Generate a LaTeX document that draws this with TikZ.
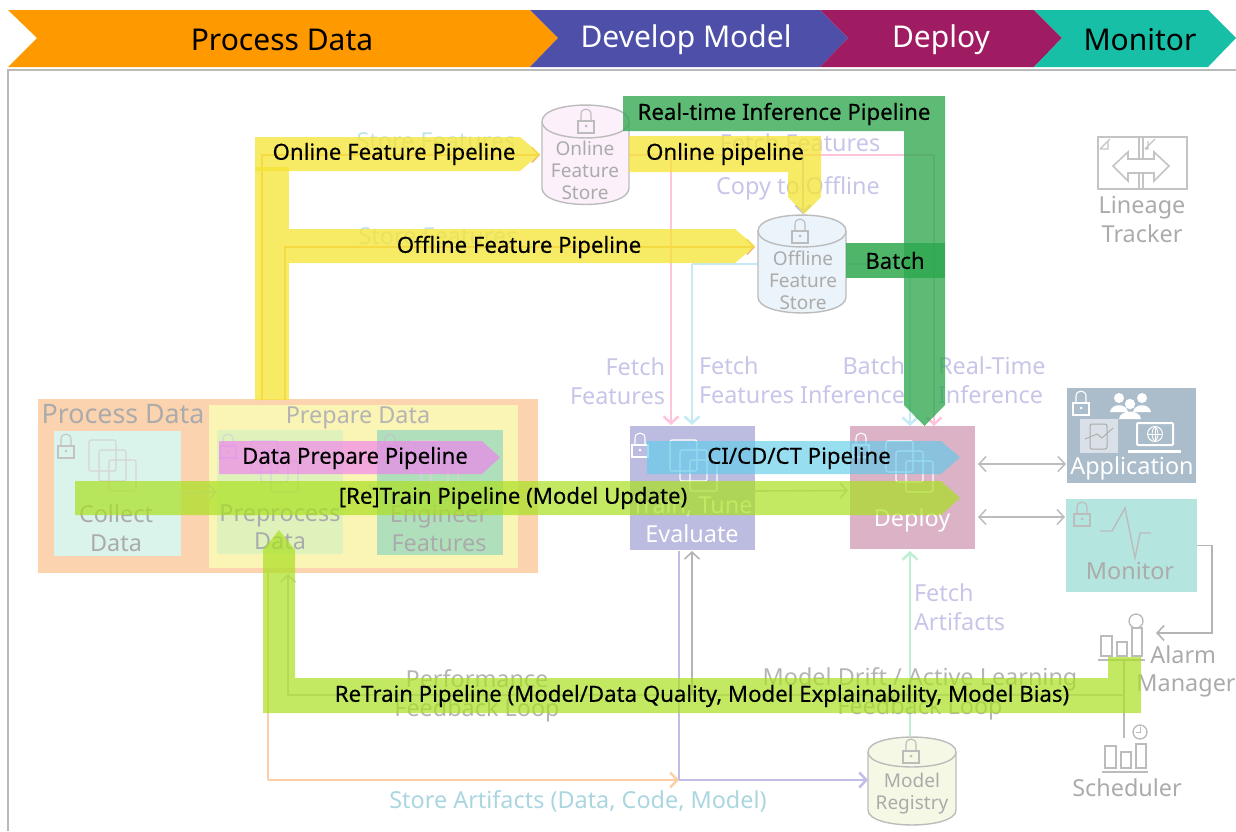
\documentclass[tikz,border=0pt]{standalone}
\usepackage{fontspec}
\setmainfont{Noto Sans}
\newfontfamily\pipefont[FakeBold=0.2]{Noto Sans}
\usetikzlibrary{arrows.meta}
\definecolor{cOrange}{HTML}{FF9900}
\definecolor{cPurple}{HTML}{4D4FA8}
\definecolor{cDeploy}{HTML}{A01C62}
\definecolor{cTeal}{HTML}{16BFA5}
\definecolor{cFrame}{HTML}{B9BBBB}
\definecolor{cLabel}{HTML}{C7C5E8}
\definecolor{cGray}{HTML}{ABABAB}
\definecolor{cYellow}{HTML}{F5E438}
\definecolor{cGreen}{HTML}{2FA84F}
\definecolor{cLime}{HTML}{A9E01F}
\definecolor{cPink}{HTML}{F07FF0}
\definecolor{cSky}{HTML}{60CCEA}
\definecolor{bProcess}{HTML}{FBD3AF}
\definecolor{bPrepare}{HTML}{FAF4B5}
\definecolor{bCollect}{HTML}{DAF3EB}
\definecolor{bPreproc}{HTML}{E0F2BC}
\definecolor{bEngineer}{HTML}{B0DFBB}
\definecolor{bTrain}{HTML}{BCBBE0}
\definecolor{bDeploy}{HTML}{DBB2C6}
\definecolor{bApp}{HTML}{ABBCCB}
\definecolor{bMonitor}{HTML}{B5E5DF}
\definecolor{bOnline}{HTML}{FCF0FB}
\definecolor{bOffline}{HTML}{EBF4FA}
\definecolor{bRegistry}{HTML}{F4F8E4}
\definecolor{lPink}{HTML}{FFC4DC}
\definecolor{lSky}{HTML}{C6EAF6}
\definecolor{lMint}{HTML}{BFF0D4}
\definecolor{lLav}{HTML}{C0BEE6}
\definecolor{lPeach}{HTML}{FCCFA4}
\definecolor{lStore}{HTML}{AAD6E0}
\definecolor{lFeat}{HTML}{F6B870}
\tikzset{
  every node/.style={inner sep=0pt,outer sep=0pt},
  head/.style={text=black,font=\fontsize{30}{34}\selectfont},
  pipe/.style={text=black,font=\pipefont\fontsize{22.2}{26}\selectfont},
  soft/.style={text=cLabel,font=\fontsize{23.4}{29}\selectfont,align=center},
  softgray/.style={text=cGray,font=\fontsize{23.4}{28.5}\selectfont,align=center},
  softwhite/.style={text=white,font=\fontsize{23.4}{29}\selectfont,align=center},
  cyltext/.style={text=cGray,font=\fontsize{19}{22}\selectfont,align=center},
  link/.style={line width=1.5pt,cGray!80,{Straight Barb[length=7pt,width=15pt]}-{Straight Barb[length=7pt,width=15pt]}},
  arr/.style={line width=1.6pt,-{Straight Barb[length=7pt,width=15pt]}},
  arrc/.style={line width=2.5pt,-{Straight Barb[length=7pt,width=15pt]}},
}
% name, x1, y1, x2, y2, fill
\newcommand{\boxn}[6]{\node[anchor=north west,fill=#6,minimum width={#4pt-#2pt},minimum height={#5pt-#3pt}] (#1) at (#2,#3) {};}
% name, x1, x2, topcentre y, ry, bottom y, fill
\newcommand{\cyl}[7]{%
  \draw[line width=1.4pt,cGray!80,fill=#7] (#2,#4) -- (#2,#6) .. controls (#2,#6+1.33*#5) and (#3,#6+1.33*#5) .. (#3,#6) -- (#3,#4) .. controls (#3,#4-1.33*#5) and (#2,#4-1.33*#5) .. cycle;
  \draw[line width=1.4pt,cGray!80] (#2,#4) .. controls (#2,#4+1.33*#5) and (#3,#4+1.33*#5) .. (#3,#4);
  \node[anchor=north west,minimum width={#3pt-#2pt},minimum height={#6pt+#5pt-#4pt+#5pt}] (#1) at (#2,#4-#5) {};}
% lock: left x, shackle top y, colour
\newcommand{\lockicon}[3]{%
  \draw[line width=1.1pt,#3] (#1,#2+12) rectangle (#1+16,#2+24);
  \draw[line width=1.1pt,#3] (#1+3,#2+12) -- (#1+3,#2+5) .. controls (#1+3,#2-1.5) and (#1+13,#2-1.5) .. (#1+13,#2+5) -- (#1+13,#2+12);
  \fill[#3] (#1+8,#2+17) circle (1.5);}
% docs: left x, top y, colour
\newcommand{\docs}[3]{%
  \foreach \k in {0,10,20}{\draw[line width=1.1pt,#3,rounded corners=2pt] (#1+\k,#2+\k) rectangle (#1+\k+27,#2+\k+31);}}
% bars: x, baseline y, h1, h2, h3, width of baseline
\newcommand{\barsicon}[6]{%
  \draw[line width=1.4pt,cGray!80] (#1,#2) -- (#1+#6,#2);
  \draw[line width=1.4pt,cGray!80] (#1+3,#2-4) rectangle (#1+14,#2-4-#3);
  \draw[line width=1.4pt,cGray!80] (#1+19,#2-4) rectangle (#1+29,#2-4-#4);
  \draw[line width=1.4pt,cGray!80] (#1+34,#2-4) rectangle (#1+44,#2-4-#5);}
\begin{document}
\begin{tikzpicture}[x=1pt,y=-1pt]
\useasboundingbox (0,0) rectangle (1236,831);
% header
\fill[cOrange] (8,10) -- (530,10) -- (558,38) -- (530,67) -- (8,67) -- (37,38) -- cycle;
\fill[cPurple] (530,10) -- (820,10) -- (848,38) -- (820,67) -- (530,67) -- (558,38) -- cycle;
\fill[cDeploy] (820,10) -- (1034,10) -- (1062,38) -- (1034,67) -- (820,67) -- (848,38) -- cycle;
\fill[cTeal] (1034,10) -- (1208,10) -- (1236,38) -- (1208,67) -- (1034,67) -- (1062,38) -- cycle;
\node[head] (hProcess) at (282,39.5) {Process Data};
\node[head,text=white] (hDevelop) at (686,39.5) {Develop Model};
\node[head,text=white] (hDeploy) at (941,40) {Deploy};
\node[head] (hMonitor) at (1140,39.5) {Monitor};
\draw[line width=2pt,cFrame] (8,831) -- (8,70) -- (1236,70);
% containers
\boxn{process}{38}{399}{538}{573}{bProcess}
\boxn{prepare}{209}{405}{518}{568}{bPrepare}
\boxn{collect}{54}{431}{181}{556}{bCollect}
\boxn{preprocess}{217}{430}{343}{554}{bPreproc}
\boxn{engineer}{377}{430}{503}{555}{bEngineer}
\boxn{train}{630}{426}{755}{550}{bTrain}
\boxn{deploy}{850}{426}{975}{549}{bDeploy}
\boxn{app}{1067}{388}{1196}{483}{bApp}
\boxn{monitor}{1066}{499}{1197}{592}{bMonitor}
\node[anchor=north west,minimum width=44pt,minimum height=32pt] (alarm) at (1098,628) {};
\node[anchor=north west,minimum width=44pt,minimum height=32pt] (scheduler) at (1102,740) {};
% free ends and bends
\coordinate (featureA) at (262,400);
\coordinate (featureB) at (285,400);
\coordinate (loopCorner) at (288,695);
\coordinate (alarmLoop) at (1124,695);
\coordinate (artCorner) at (268,780);
\coordinate (lavCorner) at (679,780);
% connector lines beneath the cylinders
\draw[line width=2.5pt,lSky] (846,264) -- (758,264) -- (692,264);
\draw[arrc,lSky] (692,264) -- (692,425);
\draw[arrc,lSky] (846,264) -- (910,264) -- (910,426);
\draw[arrc,lPink] (671,155) -- (671,425);
\draw[line width=2.5pt,lPink] (629,155) -- (671,155);
\draw[arrc,lPink] (671,155) -- (934,155) -- (934,426);
\draw[arrc,lLav] (803,155) -- (803,214);
\draw[arr,lFeat] (featureA) -- (262,155) -- (540,155);
\draw[arr,lFeat] (featureB) -- (285,247) -- (755,247);
% cylinders
\cyl{online}{542}{629}{121.5}{16.5}{188}{bOnline}
\cyl{offline}{758}{846}{231}{16}{297}{bOffline}
\cyl{registry}{868}{956}{752}{15}{810}{bRegistry}
\node[cyltext] (tOnline) at (585,170.5) {Online\\Feature\\Store};
\node[cyltext] (tOffline) at (803,280.5) {Offline\\Feature\\Store};
\node[cyltext] (tRegistry) at (912,794) {Model\\Registry};
\lockicon{578}{109}{cGray!80}
\lockicon{792}{219}{cGray!80}
\lockicon{903}{739}{cGray!80}
% process connectors
\draw[arr,cGray!50] (collect.east) -- (preprocess.west);
\draw[arr,cGray!50] (preprocess.east) -- (engineer.west);
\draw[arr,cGray!60] ([yshift=-3pt]train.east) -- ([xshift=-2pt,yshift=-3pt]deploy.west);
\draw[link] ([xshift=3pt,yshift=23.5pt]deploy.east) -- ([xshift=-1pt,yshift=-28.5pt]app.west);
\draw[link] ([xshift=3pt,yshift=-29.5pt]deploy.east) -- ([xshift=-1pt,yshift=28.5pt]monitor.west);
\draw[arr,cGray!90] (monitor.east) -- (1212,545.5) -- (1212,633) -- (1156,633);
\draw[line width=1.5pt,cGray!80] (1124,660) -- (1124,738);
\draw[arr,cGray!60] (alarmLoop) -- (loopCorner) -- (288,574);
\draw[arr,cGray!90] (692,695) -- (692,551);
\draw[line width=2.2pt,lPeach] (268,569) -- (artCorner);
\draw[arrc,lPeach] (artCorner) -- (lavCorner);
\draw[line width=2.2pt,lLav] (679,551) -- (lavCorner);
\draw[arrc,lLav] (lavCorner) -- (registry.west |- lavCorner);
\draw[arrc,lMint] (910,737) -- (910,551);
% box labels and icons
\node[text=cGray,font=\fontsize{26.8}{30}\selectfont] (tProcess) at (123,414.5) {Process Data};
\node[softgray,text=cGray!90] (tPrepare) at (358,418) {Prepare Data};
\lockicon{58}{434}{cGray!70}
\docs{89}{440}{cGray!50}
\node[softgray] (tCollect) at (116,528) {Collect\\Data};
\lockicon{220}{434}{cGray!50}
\docs{251}{441}{cGray!50}
\node[softgray] (tPreprocess) at (280,527.5) {Preprocess\\Data};
\lockicon{382}{434}{cGray!70}
\docs{411}{441}{cGray!50}
\node[softgray] (tEngineer) at (439,528.5) {Engineer\\Features};
\lockicon{632}{433}{white}
\docs{670}{440}{white}
\node[softwhite] (tTrain) at (692,519) {Train, Tune\\Evaluate};
\lockicon{853}{433}{white}
\docs{886}{441}{white}
\node[softwhite] (tDeploy) at (912,520) {Deploy};
% application icon
\lockicon{1073}{391}{white}
\fill[white] (1119,398) circle (5) (1142,398) circle (5);
\fill[white] (1110,412) .. controls (1111,403) and (1127,403) .. (1128,412) -- cycle;
\fill[white] (1133,412) .. controls (1134,403) and (1150,403) .. (1151,412) -- cycle;
\fill[white] (1130,404) circle (5.2);
\fill[white] (1119,419) .. controls (1120,409) and (1140,409) .. (1141,419) -- cycle;
\fill[white,fill opacity=.55] (1080,419) rectangle (1118,453);
\draw[line width=1pt,cGray,rounded corners=2pt] (1090,424) rectangle (1107,449);
\draw[line width=.9pt,cGray] (1085,439) -- (1097,434) -- (1102,438) -- (1113,428);
\draw[line width=2pt,white,rounded corners=1pt] (1137,423) rectangle (1173,445);
\fill[white] (1128,450) rectangle (1181,453);
\draw[line width=1pt,white] (1155,434) circle (7.5);
\draw[line width=.8pt,white] (1147.5,434) -- (1162.5,434) (1155,426.5) -- (1155,441.5);
\draw[line width=.8pt,white] (1155,426.5) .. controls (1151,430) and (1151,438) .. (1155,441.5) .. controls (1159,438) and (1159,430) .. (1155,426.5);
\node[softwhite] (tApp) at (1132,468) {Application};
% monitor icon
\lockicon{1074}{502}{cGray!80}
\draw[line width=1.4pt,cGray!80] (1100,531) -- (1112,531) -- (1125,508) -- (1135,558) -- (1140,533) -- (1151,533);
\node[softgray] (tMonitor) at (1130,571) {Monitor};
% alarm and scheduler
\barsicon{1098}{660}{20}{14}{28}{47}
\draw[line width=1.4pt,cGray!80] (1136,621) circle (7);
\node[softgray,align=left] (tAlarm) at (1186,671.5) {\hspace*{14pt}Alarm\\Manager};
\barsicon{1102}{772}{22}{16}{24}{46}
\draw[line width=1.4pt,cGray!80] (1140,732) circle (7);
\draw[line width=1pt,cGray!80] (1140,727) -- (1140,732) -- (1136,732);
\node[softgray] (tScheduler) at (1127,787.5) {Scheduler};
% lineage tracker
\draw[line width=2pt,cGray!70] (1098,137) rectangle (1187,189);
\draw[line width=1.2pt,cGray!70] (1139,137) -- (1139,189) (1143,137) -- (1143,189);
\draw[line width=1.2pt,cGray!70] (1100,149) -- (1108,149) -- (1108,141) (1100,149) -- (1110,139);
\draw[line width=1.2pt,cGray!70] (1145,149) -- (1148,149) -- (1148,141) (1145,149) -- (1155,139);
\draw[line width=1.6pt,cGray!70,fill=white] (1113,166) -- (1128,152) -- (1128,159) -- (1154,159) -- (1154,152) -- (1169,166) -- (1154,181) -- (1154,173) -- (1128,173) -- (1128,181) -- cycle;
\node[softgray] (tLineage) at (1142,219.5) {Lineage\\Tracker};
% faint labels
\node[soft,text=lStore!70] (tStore1) at (436,141) {Store Features};
\node[soft,text=lStore!70] (tStore2) at (438,236) {Store Features};
\node[soft] (tFetchTop) at (800,143) {Fetch Features};
\node[soft] (tCopy) at (798,188) {Copy to Offline};
\node[soft,align=right,anchor=east] (tFetch1) at (665,381.5) {Fetch\\Features};
\node[soft,align=left,anchor=west] (tFetch2) at (699,380.5) {Fetch\\Features};
\node[soft,align=right,anchor=east] (tBatch) at (905,380.5) {Batch\\Inference};
\node[soft,align=left,anchor=west] (tReal) at (938,380.5) {Real-Time\\Inference};
\node[soft,align=left,anchor=west] (tArtifacts) at (914,607) {Fetch\\Artifacts};
\node[softgray,text=cGray!90] (tPerf) at (477,696) {Performance\\Feedback Loop};
\node[softgray,text=cGray!90] (tDrift) at (920,694) {Model Drift / Active Learning\\Feedback Loop};
\node[soft,text=lStore] (tStoreArt) at (578,801.5) {Store Artifacts (Data, Code, Model)};
% pipelines
\fill[cYellow,fill opacity=.78] (255,167) rectangle (289,400);
\fill[cYellow,fill opacity=.78] (289,229) -- (735,229) -- (755,246) -- (735,263) -- (289,263) -- cycle;
\fill[cYellow,fill opacity=.78] (255,137) -- (520,137) -- (540,154) -- (520,171) -- (255,171) -- cycle;
\fill[cYellow,fill opacity=.78] (629,136) -- (821,136) -- (821,197) -- (804,214) -- (788,197) -- (788,172) -- (629,172) -- cycle;
\fill[cGreen,fill opacity=.78] (623,96) -- (945,96) -- (945,405) -- (924.5,426) -- (904,405) -- (904,131) -- (623,131) -- cycle;
\fill[cGreen,fill opacity=.85] (846,243) rectangle (945,278);
\fill[cPink,fill opacity=.65] (219,441) -- (482,441) -- (500,457.5) -- (482,474) -- (219,474) -- cycle;
\fill[cSky,fill opacity=.65] (647,441) -- (941,441) -- (960,457.5) -- (941,474) -- (647,474) -- cycle;
\fill[cLime,fill opacity=.7] (75,481) -- (941,481) -- (960,498) -- (941,515) -- (75,515) -- cycle;
\fill[cLime,fill opacity=.7] (1141,657) -- (1141,713) -- (263,713) -- (263,550) -- (279,530) -- (295,550) -- (295,678) -- (1108,678) -- (1108,657) -- cycle;
\node[pipe] (pOnlineF) at (394,154) {Online Feature Pipeline};
\node[pipe] (pOfflineF) at (519,247) {Offline Feature Pipeline};
\node[pipe] (pOnline) at (725,154) {Online pipeline};
\node[pipe] (pReal) at (784,114) {Real-time Inference Pipeline};
\node[pipe] (pBatch) at (895,260.5) {Batch};
\node[pipe] (pData) at (355,458) {Data Prepare Pipeline};
\node[pipe] (pRetrain) at (513,498) {[Re]Train Pipeline (Model Update)};
\node[pipe] (pCicd) at (799,458) {CI/CD/CT Pipeline};
\node[pipe] (pQuality) at (702,696) {ReTrain Pipeline (Model/Data Quality, Model Explainability, Model Bias)};
\end{tikzpicture}
\end{document}
